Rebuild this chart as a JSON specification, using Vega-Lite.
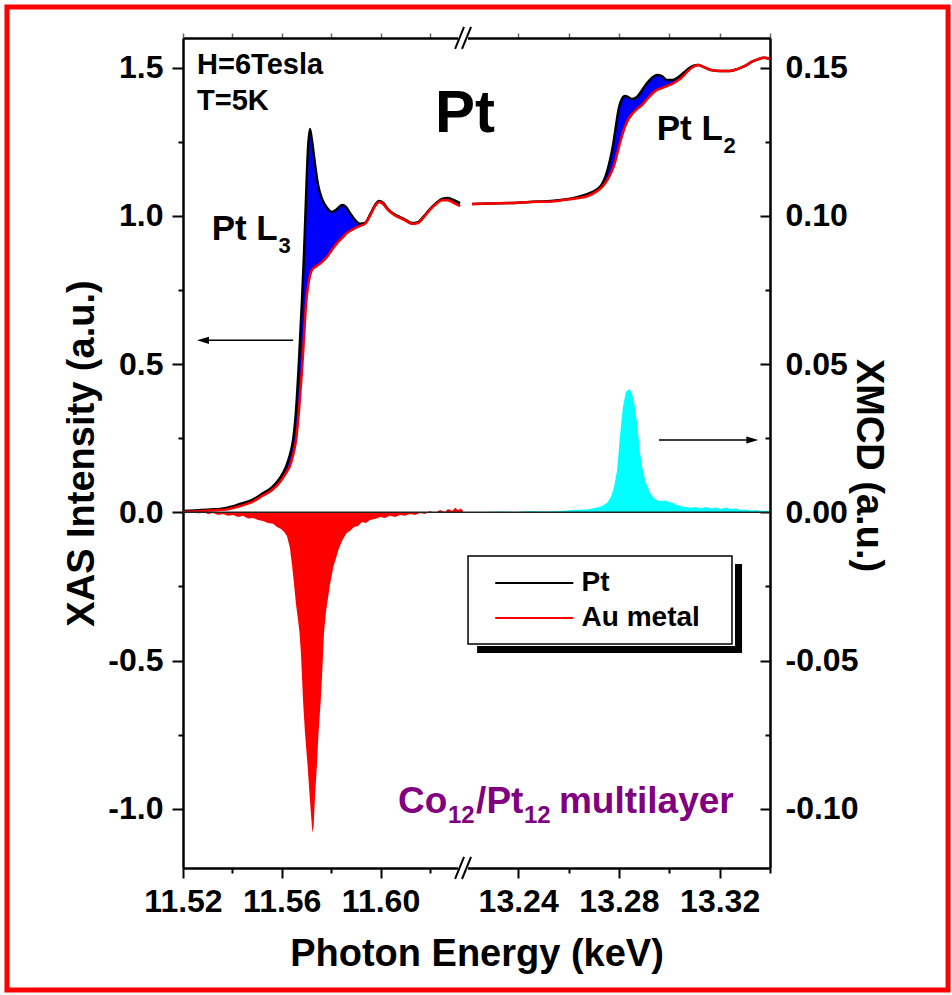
{
"$schema": "https://vega.github.io/schema/vega-lite/v6.json",
"width": 587, "height": 830,
"autosize": {"type": "none"},
"padding": {"left": 183, "top": 38, "right": 182, "bottom": 127},
"background": "white",
"config": {
  "view": {"stroke": null},
  "font": "Liberation Sans",
  "axis": {"labelFont": "Liberation Sans", "labelFontWeight": "bold", "labelFontSize": 32, "labelColor": "black",
    "titleFont": "Liberation Sans", "titleFontWeight": "bold", "titleFontSize": 38, "titleColor": "black",
    "domainColor": "black", "domainWidth": 2.5, "tickColor": "black", "tickWidth": 2, "grid": false,
    "labelFlush": false, "labelOverlap": false}
},
"datasets": {
  "xas": [
    {"E":11.5200,"Pt":0.004,"Au":0.001,"edge":"L3"},{"E":11.5249,"Pt":0.006,"Au":0.003,"edge":"L3"},{"E":11.5309,"Pt":0.009,"Au":0.006,"edge":"L3"},{"E":11.5370,"Pt":0.014,"Au":0.009,"edge":"L3"},{"E":11.5431,"Pt":0.028,"Au":0.021,"edge":"L3"},{"E":11.5479,"Pt":0.041,"Au":0.034,"edge":"L3"},{"E":11.5520,"Pt":0.062,"Au":0.055,"edge":"L3"},{"E":11.5561,"Pt":0.085,"Au":0.075,"edge":"L3"},{"E":11.5593,"Pt":0.116,"Au":0.102,"edge":"L3"},{"E":11.5617,"Pt":0.153,"Au":0.132,"edge":"L3"},{"E":11.5633,"Pt":0.194,"Au":0.156,"edge":"L3"},{"E":11.5646,"Pt":0.244,"Au":0.193,"edge":"L3"},{"E":11.5658,"Pt":0.345,"Au":0.244,"edge":"L3"},{"E":11.5670,"Pt":0.514,"Au":0.345,"edge":"L3"},{"E":11.5682,"Pt":0.716,"Au":0.480,"edge":"L3"},{"E":11.5690,"Pt":0.868,"Au":0.588,"edge":"L3"},{"E":11.5698,"Pt":1.053,"Au":0.699,"edge":"L3"},{"E":11.5706,"Pt":1.222,"Au":0.760,"edge":"L3"},{"E":11.5714,"Pt":1.293,"Au":0.797,"edge":"L3"},{"E":11.5722,"Pt":1.256,"Au":0.817,"edge":"L3"},{"E":11.5735,"Pt":1.172,"Au":0.827,"edge":"L3"},{"E":11.5747,"Pt":1.104,"Au":0.834,"edge":"L3"},{"E":11.5763,"Pt":1.057,"Au":0.844,"edge":"L3"},{"E":11.5783,"Pt":1.027,"Au":0.861,"edge":"L3"},{"E":11.5803,"Pt":1.013,"Au":0.885,"edge":"L3"},{"E":11.5824,"Pt":1.023,"Au":0.908,"edge":"L3"},{"E":11.5844,"Pt":1.037,"Au":0.925,"edge":"L3"},{"E":11.5860,"Pt":1.030,"Au":0.939,"edge":"L3"},{"E":11.5876,"Pt":1.010,"Au":0.949,"edge":"L3"},{"E":11.5897,"Pt":0.986,"Au":0.959,"edge":"L3"},{"E":11.5917,"Pt":0.973,"Au":0.966,"edge":"L3"},{"E":11.5937,"Pt":0.976,"Au":0.973,"edge":"L3"},{"E":11.5957,"Pt":1.003,"Au":0.999,"edge":"L3"},{"E":11.5978,"Pt":1.037,"Au":1.033,"edge":"L3"},{"E":11.5994,"Pt":1.050,"Au":1.047,"edge":"L3"},{"E":11.6010,"Pt":1.044,"Au":1.040,"edge":"L3"},{"E":11.6030,"Pt":1.023,"Au":1.020,"edge":"L3"},{"E":11.6055,"Pt":1.006,"Au":1.003,"edge":"L3"},{"E":11.6079,"Pt":0.996,"Au":0.993,"edge":"L3"},{"E":11.6103,"Pt":0.986,"Au":0.983,"edge":"L3"},{"E":11.6128,"Pt":0.976,"Au":0.973,"edge":"L3"},{"E":11.6152,"Pt":0.979,"Au":0.976,"edge":"L3"},{"E":11.6176,"Pt":0.999,"Au":0.996,"edge":"L3"},{"E":11.6200,"Pt":1.023,"Au":1.020,"edge":"L3"},{"E":11.6225,"Pt":1.043,"Au":1.040,"edge":"L3"},{"E":11.6249,"Pt":1.057,"Au":1.053,"edge":"L3"},{"E":11.6273,"Pt":1.060,"Au":1.053,"edge":"L3"},{"E":11.6298,"Pt":1.053,"Au":1.043,"edge":"L3"},{"E":11.6322,"Pt":1.043,"Au":1.033,"edge":"L3"},
    {"E":13.2217,"Pt":1.040,"Au":1.040,"edge":"L2"},{"E":13.2288,"Pt":1.042,"Au":1.042,"edge":"L2"},{"E":13.2368,"Pt":1.043,"Au":1.043,"edge":"L2"},{"E":13.2447,"Pt":1.047,"Au":1.047,"edge":"L2"},{"E":13.2526,"Pt":1.050,"Au":1.048,"edge":"L2"},{"E":13.2586,"Pt":1.055,"Au":1.054,"edge":"L2"},{"E":13.2638,"Pt":1.064,"Au":1.060,"edge":"L2"},{"E":13.2677,"Pt":1.074,"Au":1.067,"edge":"L2"},{"E":13.2709,"Pt":1.087,"Au":1.081,"edge":"L2"},{"E":13.2733,"Pt":1.107,"Au":1.097,"edge":"L2"},{"E":13.2749,"Pt":1.138,"Au":1.114,"edge":"L2"},{"E":13.2765,"Pt":1.189,"Au":1.138,"edge":"L2"},{"E":13.2777,"Pt":1.239,"Au":1.161,"edge":"L2"},{"E":13.2789,"Pt":1.307,"Au":1.195,"edge":"L2"},{"E":13.2800,"Pt":1.364,"Au":1.232,"edge":"L2"},{"E":13.2812,"Pt":1.394,"Au":1.269,"edge":"L2"},{"E":13.2824,"Pt":1.404,"Au":1.300,"edge":"L2"},{"E":13.2836,"Pt":1.401,"Au":1.323,"edge":"L2"},{"E":13.2852,"Pt":1.394,"Au":1.343,"edge":"L2"},{"E":13.2872,"Pt":1.401,"Au":1.360,"edge":"L2"},{"E":13.2892,"Pt":1.424,"Au":1.374,"edge":"L2"},{"E":13.2912,"Pt":1.448,"Au":1.394,"edge":"L2"},{"E":13.2931,"Pt":1.465,"Au":1.411,"edge":"L2"},{"E":13.2951,"Pt":1.475,"Au":1.425,"edge":"L2"},{"E":13.2971,"Pt":1.471,"Au":1.431,"edge":"L2"},{"E":13.2991,"Pt":1.458,"Au":1.438,"edge":"L2"},{"E":13.3011,"Pt":1.458,"Au":1.445,"edge":"L2"},{"E":13.3031,"Pt":1.465,"Au":1.455,"edge":"L2"},{"E":13.3051,"Pt":1.478,"Au":1.468,"edge":"L2"},{"E":13.3070,"Pt":1.492,"Au":1.485,"edge":"L2"},{"E":13.3094,"Pt":1.506,"Au":1.502,"edge":"L2"},{"E":13.3114,"Pt":1.509,"Au":1.509,"edge":"L2"},{"E":13.3138,"Pt":1.502,"Au":1.502,"edge":"L2"},{"E":13.3166,"Pt":1.492,"Au":1.492,"edge":"L2"},{"E":13.3202,"Pt":1.489,"Au":1.489,"edge":"L2"},{"E":13.3241,"Pt":1.489,"Au":1.489,"edge":"L2"},{"E":13.3273,"Pt":1.496,"Au":1.496,"edge":"L2"},{"E":13.3301,"Pt":1.506,"Au":1.506,"edge":"L2"},{"E":13.3329,"Pt":1.520,"Au":1.520,"edge":"L2"},{"E":13.3352,"Pt":1.528,"Au":1.528,"edge":"L2"},{"E":13.3376,"Pt":1.533,"Au":1.533,"edge":"L2"},{"E":13.3400,"Pt":1.529,"Au":1.529,"edge":"L2"}
  ],
  "xmcd": [
    {"E":11.5200,"XMCD":0.0004,"edge":"L3"},{"E":11.5220,"XMCD":-0.0002,"edge":"L3"},{"E":11.5241,"XMCD":0.0004,"edge":"L3"},{"E":11.5261,"XMCD":-0.0004,"edge":"L3"},{"E":11.5281,"XMCD":0.0001,"edge":"L3"},{"E":11.5301,"XMCD":-0.0006,"edge":"L3"},{"E":11.5322,"XMCD":-0.0002,"edge":"L3"},{"E":11.5342,"XMCD":-0.0009,"edge":"L3"},{"E":11.5362,"XMCD":-0.0006,"edge":"L3"},{"E":11.5382,"XMCD":-0.0012,"edge":"L3"},{"E":11.5403,"XMCD":-0.0009,"edge":"L3"},{"E":11.5423,"XMCD":-0.0016,"edge":"L3"},{"E":11.5443,"XMCD":-0.0012,"edge":"L3"},{"E":11.5463,"XMCD":-0.0021,"edge":"L3"},{"E":11.5484,"XMCD":-0.0019,"edge":"L3"},{"E":11.5504,"XMCD":-0.0026,"edge":"L3"},{"E":11.5524,"XMCD":-0.0029,"edge":"L3"},{"E":11.5544,"XMCD":-0.0036,"edge":"L3"},{"E":11.5565,"XMCD":-0.0039,"edge":"L3"},{"E":11.5581,"XMCD":-0.0050,"edge":"L3"},{"E":11.5597,"XMCD":-0.0056,"edge":"L3"},{"E":11.5609,"XMCD":-0.0066,"edge":"L3"},{"E":11.5621,"XMCD":-0.0080,"edge":"L3"},{"E":11.5633,"XMCD":-0.0120,"edge":"L3"},{"E":11.5642,"XMCD":-0.0181,"edge":"L3"},{"E":11.5650,"XMCD":-0.0245,"edge":"L3"},{"E":11.5658,"XMCD":-0.0313,"edge":"L3"},{"E":11.5666,"XMCD":-0.0363,"edge":"L3"},{"E":11.5672,"XMCD":-0.0407,"edge":"L3"},{"E":11.5678,"XMCD":-0.0481,"edge":"L3"},{"E":11.5686,"XMCD":-0.0633,"edge":"L3"},{"E":11.5694,"XMCD":-0.0744,"edge":"L3"},{"E":11.5705,"XMCD":-0.0859,"edge":"L3"},{"E":11.5714,"XMCD":-0.0970,"edge":"L3"},{"E":11.5724,"XMCD":-0.1081,"edge":"L3"},{"E":11.5729,"XMCD":-0.1058,"edge":"L3"},{"E":11.5735,"XMCD":-0.0953,"edge":"L3"},{"E":11.5742,"XMCD":-0.0859,"edge":"L3"},{"E":11.5749,"XMCD":-0.0744,"edge":"L3"},{"E":11.5758,"XMCD":-0.0633,"edge":"L3"},{"E":11.5765,"XMCD":-0.0519,"edge":"L3"},{"E":11.5771,"XMCD":-0.0407,"edge":"L3"},{"E":11.5779,"XMCD":-0.0336,"edge":"L3"},{"E":11.5786,"XMCD":-0.0296,"edge":"L3"},{"E":11.5795,"XMCD":-0.0245,"edge":"L3"},{"E":11.5809,"XMCD":-0.0184,"edge":"L3"},{"E":11.5820,"XMCD":-0.0154,"edge":"L3"},{"E":11.5829,"XMCD":-0.0127,"edge":"L3"},{"E":11.5844,"XMCD":-0.0097,"edge":"L3"},{"E":11.5863,"XMCD":-0.0070,"edge":"L3"},{"E":11.5876,"XMCD":-0.0063,"edge":"L3"},{"E":11.5893,"XMCD":-0.0050,"edge":"L3"},{"E":11.5909,"XMCD":-0.0046,"edge":"L3"},{"E":11.5925,"XMCD":-0.0033,"edge":"L3"},{"E":11.5941,"XMCD":-0.0036,"edge":"L3"},{"E":11.5957,"XMCD":-0.0026,"edge":"L3"},{"E":11.5978,"XMCD":-0.0023,"edge":"L3"},{"E":11.5998,"XMCD":-0.0016,"edge":"L3"},{"E":11.6018,"XMCD":-0.0019,"edge":"L3"},{"E":11.6038,"XMCD":-0.0012,"edge":"L3"},{"E":11.6059,"XMCD":-0.0016,"edge":"L3"},{"E":11.6079,"XMCD":-0.0009,"edge":"L3"},{"E":11.6099,"XMCD":-0.0012,"edge":"L3"},{"E":11.6119,"XMCD":-0.0006,"edge":"L3"},{"E":11.6140,"XMCD":-0.0009,"edge":"L3"},{"E":11.6160,"XMCD":-0.0002,"edge":"L3"},{"E":11.6180,"XMCD":-0.0006,"edge":"L3"},{"E":11.6200,"XMCD":0.0004,"edge":"L3"},{"E":11.6221,"XMCD":-0.0002,"edge":"L3"},{"E":11.6241,"XMCD":0.0008,"edge":"L3"},{"E":11.6261,"XMCD":0.0001,"edge":"L3"},{"E":11.6273,"XMCD":0.0011,"edge":"L3"},{"E":11.6290,"XMCD":0.0004,"edge":"L3"},{"E":11.6302,"XMCD":0.0015,"edge":"L3"},{"E":11.6314,"XMCD":0.0008,"edge":"L3"},{"E":11.6326,"XMCD":0.0013,"edge":"L3"},{"E":11.6334,"XMCD":0.0004,"edge":"L3"},
    {"E":13.2260,"XMCD":0.0001,"edge":"L2"},{"E":13.2328,"XMCD":0.0003,"edge":"L2"},{"E":13.2388,"XMCD":0.0001,"edge":"L2"},{"E":13.2447,"XMCD":0.0004,"edge":"L2"},{"E":13.2507,"XMCD":0.0003,"edge":"L2"},{"E":13.2566,"XMCD":0.0004,"edge":"L2"},{"E":13.2618,"XMCD":0.0008,"edge":"L2"},{"E":13.2673,"XMCD":0.0009,"edge":"L2"},{"E":13.2709,"XMCD":0.0015,"edge":"L2"},{"E":13.2733,"XMCD":0.0021,"edge":"L2"},{"E":13.2753,"XMCD":0.0031,"edge":"L2"},{"E":13.2769,"XMCD":0.0052,"edge":"L2"},{"E":13.2781,"XMCD":0.0085,"edge":"L2"},{"E":13.2793,"XMCD":0.0143,"edge":"L2"},{"E":13.2804,"XMCD":0.0254,"edge":"L2"},{"E":13.2816,"XMCD":0.0355,"edge":"L2"},{"E":13.2828,"XMCD":0.0406,"edge":"L2"},{"E":13.2841,"XMCD":0.0416,"edge":"L2"},{"E":13.2852,"XMCD":0.0402,"edge":"L2"},{"E":13.2862,"XMCD":0.0362,"edge":"L2"},{"E":13.2872,"XMCD":0.0304,"edge":"L2"},{"E":13.2884,"XMCD":0.0200,"edge":"L2"},{"E":13.2896,"XMCD":0.0136,"edge":"L2"},{"E":13.2908,"XMCD":0.0099,"edge":"L2"},{"E":13.2924,"XMCD":0.0065,"edge":"L2"},{"E":13.2939,"XMCD":0.0048,"edge":"L2"},{"E":13.2951,"XMCD":0.0041,"edge":"L2"},{"E":13.2967,"XMCD":0.0038,"edge":"L2"},{"E":13.2983,"XMCD":0.0040,"edge":"L2"},{"E":13.2999,"XMCD":0.0035,"edge":"L2"},{"E":13.3015,"XMCD":0.0031,"edge":"L2"},{"E":13.3031,"XMCD":0.0025,"edge":"L2"},{"E":13.3047,"XMCD":0.0020,"edge":"L2"},{"E":13.3067,"XMCD":0.0018,"edge":"L2"},{"E":13.3086,"XMCD":0.0015,"edge":"L2"},{"E":13.3106,"XMCD":0.0018,"edge":"L2"},{"E":13.3126,"XMCD":0.0013,"edge":"L2"},{"E":13.3146,"XMCD":0.0018,"edge":"L2"},{"E":13.3166,"XMCD":0.0013,"edge":"L2"},{"E":13.3186,"XMCD":0.0016,"edge":"L2"},{"E":13.3205,"XMCD":0.0011,"edge":"L2"},{"E":13.3225,"XMCD":0.0016,"edge":"L2"},{"E":13.3245,"XMCD":0.0011,"edge":"L2"},{"E":13.3265,"XMCD":0.0013,"edge":"L2"},{"E":13.3285,"XMCD":0.0008,"edge":"L2"},{"E":13.3305,"XMCD":0.0009,"edge":"L2"},{"E":13.3325,"XMCD":0.0006,"edge":"L2"},{"E":13.3344,"XMCD":0.0008,"edge":"L2"},{"E":13.3364,"XMCD":0.0004,"edge":"L2"},{"E":13.3384,"XMCD":0.0006,"edge":"L2"},{"E":13.3396,"XMCD":0.0004,"edge":"L2"}
  ]
},
"resolve": {"scale": {"y": "independent"}, "axis": {"x": "independent", "y": "independent"}},
"layer": [
{
  "resolve": {"axis": {"x": "independent", "y": "independent"}},
  "layer": [
    {"data": {"name": "xas"},
     "mark": {"type": "area", "color": "#0000ff", "interpolate": "monotone"},
     "encoding": {
       "x": {"field": "E", "type": "quantitative", "scale": {"domain": [11.52, 11.6334, 13.2181, 13.34], "range": [0, 280, 280, 587], "nice": false, "zero": false},
             "axis": {"orient": "top", "values": [11.52,11.54,11.56,11.58,11.60,11.62,13.24,13.26,13.28,13.30,13.32,13.34], "labels": false, "tickSize": 5, "tickColor": "#666666", "tickWidth": 1.5, "title": null}},
       "y": {"field": "Au", "type": "quantitative", "scale": {"domain": [-1.2, 1.6], "nice": false, "zero": false}, "axis": null},
       "y2": {"field": "Pt"},
       "detail": {"field": "edge"}
     }},
    {"data": {"name": "xas"},
     "mark": {"type": "line", "color": "black", "strokeWidth": 2.5, "interpolate": "monotone"},
     "encoding": {
       "x": {"field": "E", "type": "quantitative",
             "axis": {"orient": "bottom", "values": [11.52,11.56,11.60,13.24,13.28,13.32], "format": ".2f", "tickSize": 10, "labelPadding": 8, "title": "Photon Energy (keV)", "titlePadding": 18}},
       "y": {"field": "Pt", "type": "quantitative",
             "axis": {"orient": "left", "values": [-1,-0.5,0,0.5,1,1.5], "labelExpr": "replace(format(datum.value, '.1f'), '\u2212', '-')", "tickSize": 11, "labelPadding": 9, "title": "XAS Intensity (a.u.)", "titlePadding": 6}},
       "detail": {"field": "edge"}
     }},
    {"data": {"name": "xas"},
     "mark": {"type": "line", "color": "#ff0000", "strokeWidth": 2.5, "interpolate": "monotone"},
     "encoding": {
       "x": {"field": "E", "type": "quantitative",
             "axis": {"orient": "bottom", "values": [11.54,11.58,11.62,13.26,13.30,13.34], "labels": false, "domain": false, "tickSize": 5, "title": null}},
       "y": {"field": "Au", "type": "quantitative",
             "axis": {"orient": "left", "values": [-0.75,-0.25,0.25,0.75,1.25], "labels": false, "domain": false, "tickSize": 5, "title": null}},
       "detail": {"field": "edge"}
     }},
    {"data": {"values": [{}]}, "mark": {"type": "rule", "color": "black", "strokeWidth": 1.5},
     "encoding": {"x": {"datum": 11.5273, "axis": null}, "x2": {"datum": 11.5646}, "y": {"datum": 0.58, "axis": null}}},
    {"data": {"values": [{}]}, "mark": {"type": "point", "shape": "M-1,0L1,-0.6L1,0.6Z", "size": 144, "filled": true, "opacity": 1, "color": "black", "strokeWidth": 0},
     "encoding": {"x": {"datum": 11.5281, "axis": null}, "y": {"datum": 0.58, "axis": null}}},
    {"data": {"values": [{}]}, "mark": {"type": "rule", "color": "black", "strokeWidth": 1.5},
     "encoding": {"x": {"datum": 13.2959, "axis": null}, "x2": {"datum": 13.3313}, "y": {"datum": 0.2439, "axis": null}}},
    {"data": {"values": [{}]}, "mark": {"type": "point", "shape": "M1,0L-1,-0.6L-1,0.6Z", "size": 144, "filled": true, "opacity": 1, "color": "black", "strokeWidth": 0},
     "encoding": {"x": {"datum": 13.3330, "axis": null}, "y": {"datum": 0.2439, "axis": null}}},
    {"data": {"values": [{}]}, "mark": {"type": "rect", "color": "white"},
     "encoding": {"x": {"datum": 11.6314, "axis": null}, "x2": {"datum": 13.2201}, "y": {"datum": -1.1898, "axis": null}, "y2": {"datum": -1.2134}}},
    {"data": {"values": [{}]}, "mark": {"type": "rect", "color": "white"},
     "encoding": {"x": {"datum": 11.6314, "axis": null}, "x2": {"datum": 13.2201}, "y": {"datum": 1.6135, "axis": null}, "y2": {"datum": 1.5866}}},
    {"data": {"values": [{}]}, "mark": {"type": "rule", "color": "black", "strokeWidth": 2},
     "encoding": {"x": {"datum": 11.6302, "axis": null}, "x2": {"datum": 13.2185}, "y": {"datum": -1.2371, "axis": null}, "y2": {"datum": -1.1628}}},
    {"data": {"values": [{}]}, "mark": {"type": "rule", "color": "black", "strokeWidth": 2},
     "encoding": {"x": {"datum": 11.6330, "axis": null}, "x2": {"datum": 13.2213}, "y": {"datum": -1.2371, "axis": null}, "y2": {"datum": -1.1628}}},
    {"data": {"values": [{}]}, "mark": {"type": "rule", "color": "black", "strokeWidth": 2},
     "encoding": {"x": {"datum": 11.6302, "axis": null}, "x2": {"datum": 13.2185}, "y": {"datum": 1.5630, "axis": null}, "y2": {"datum": 1.6372}}},
    {"data": {"values": [{}]}, "mark": {"type": "rule", "color": "black", "strokeWidth": 2},
     "encoding": {"x": {"datum": 11.6330, "axis": null}, "x2": {"datum": 13.2213}, "y": {"datum": 1.5630, "axis": null}, "y2": {"datum": 1.6372}}},
    {"data": {"values": [{}]}, "mark": {"type": "text", "text": "H=6Tesla", "fontSize": 29, "fontWeight": "bold", "font": "Liberation Sans", "align": "left", "baseline": "alphabetic", "color": "black"},
     "encoding": {"x": {"datum": 11.5257, "axis": null}, "y": {"datum": 1.4776, "axis": null}}},
    {"data": {"values": [{}]}, "mark": {"type": "text", "text": "T=5K", "fontSize": 29, "fontWeight": "bold", "font": "Liberation Sans", "align": "left", "baseline": "alphabetic", "color": "black"},
     "encoding": {"x": {"datum": 11.5257, "axis": null}, "y": {"datum": 1.3568, "axis": null}}},
    {"data": {"values": [{}]}, "mark": {"type": "text", "text": "Pt", "fontSize": 60, "fontWeight": "bold", "font": "Liberation Sans", "align": "left", "baseline": "alphabetic", "color": "black"},
     "encoding": {"x": {"datum": 11.6221, "axis": null}, "y": {"datum": 1.284, "axis": null}}},
    {"data": {"values": [{}]}, "mark": {"type": "text", "text": "Pt L", "fontSize": 35, "fontWeight": "bold", "font": "Liberation Sans", "align": "left", "baseline": "alphabetic", "color": "black"},
     "encoding": {"x": {"datum": 11.5316, "axis": null}, "y": {"datum": 0.9186, "axis": null}}},
    {"data": {"values": [{}]}, "mark": {"type": "text", "text": "3", "fontSize": 22, "fontWeight": "bold", "font": "Liberation Sans", "align": "left", "baseline": "alphabetic", "color": "black"},
     "encoding": {"x": {"datum": 11.5587, "axis": null}, "y": {"datum": 0.8737, "axis": null}}},
    {"data": {"values": [{}]}, "mark": {"type": "text", "text": "Pt L", "fontSize": 35, "fontWeight": "bold", "font": "Liberation Sans", "align": "left", "baseline": "alphabetic", "color": "black"},
     "encoding": {"x": {"datum": 13.2950, "axis": null}, "y": {"datum": 1.2560, "axis": null}}},
    {"data": {"values": [{}]}, "mark": {"type": "text", "text": "2", "fontSize": 22, "fontWeight": "bold", "font": "Liberation Sans", "align": "left", "baseline": "alphabetic", "color": "black"},
     "encoding": {"x": {"datum": 13.3215, "axis": null}, "y": {"datum": 1.2111, "axis": null}}},
    {"data": {"values": [{}]}, "mark": {"type": "text", "text": "Co", "fontSize": 37, "fontWeight": "bold", "font": "Liberation Sans", "align": "left", "baseline": "alphabetic", "color": "#800080"},
     "encoding": {"x": {"datum": 11.6071, "axis": null}, "y": {"datum": -1.0144, "axis": null}}},
    {"data": {"values": [{}]}, "mark": {"type": "text", "text": "12", "fontSize": 24, "fontWeight": "bold", "font": "Liberation Sans", "align": "left", "baseline": "alphabetic", "color": "#800080"},
     "encoding": {"x": {"datum": 11.6273, "axis": null}, "y": {"datum": -1.0481, "axis": null}}},
    {"data": {"values": [{}]}, "mark": {"type": "text", "text": "/Pt", "fontSize": 37, "fontWeight": "bold", "font": "Liberation Sans", "align": "left", "baseline": "alphabetic", "color": "#800080"},
     "encoding": {"x": {"datum": 13.2233, "axis": null}, "y": {"datum": -1.0144, "axis": null}}},
    {"data": {"values": [{}]}, "mark": {"type": "text", "text": "12", "fontSize": 24, "fontWeight": "bold", "font": "Liberation Sans", "align": "left", "baseline": "alphabetic", "color": "#800080"},
     "encoding": {"x": {"datum": 13.2423, "axis": null}, "y": {"datum": -1.0481, "axis": null}}},
    {"data": {"values": [{}]}, "mark": {"type": "text", "text": "multilayer", "fontSize": 37, "fontWeight": "bold", "font": "Liberation Sans", "align": "left", "baseline": "alphabetic", "color": "#800080"},
     "encoding": {"x": {"datum": 13.2562, "axis": null}, "y": {"datum": -1.0144, "axis": null}}},
    {"data": {"values": [{}]}, "mark": {"type": "rect", "color": "black"},
     "encoding": {"x": {"datum": 13.3261, "axis": null}, "x2": {"datum": 13.3289}, "y": {"datum": -0.1744, "axis": null}, "y2": {"datum": -0.4747}}},
    {"data": {"values": [{}]}, "mark": {"type": "rect", "color": "black"},
     "encoding": {"x": {"datum": 13.2237, "axis": null}, "x2": {"datum": 13.3289}, "y": {"datum": -0.4511, "axis": null}, "y2": {"datum": -0.4747}}},
    {"data": {"values": [{}]}, "mark": {"type": "rect", "fill": "white", "stroke": "black", "strokeWidth": 1.5},
     "encoding": {"x": {"datum": 13.2201, "axis": null}, "x2": {"datum": 13.3249}, "y": {"datum": -0.1474, "axis": null}, "y2": {"datum": -0.4443}}},
    {"data": {"values": [{}]}, "mark": {"type": "rule", "color": "black", "strokeWidth": 2},
     "encoding": {"x": {"datum": 13.2309, "axis": null}, "x2": {"datum": 13.2619}, "y": {"datum": -0.2385, "axis": null}}},
    {"data": {"values": [{}]}, "mark": {"type": "rule", "color": "#ff0000", "strokeWidth": 2},
     "encoding": {"x": {"datum": 13.2309, "axis": null}, "x2": {"datum": 13.2619}, "y": {"datum": -0.3566, "axis": null}}},
    {"data": {"values": [{}]}, "mark": {"type": "text", "text": "Pt", "fontSize": 28, "fontWeight": "bold", "font": "Liberation Sans", "align": "left", "baseline": "middle", "color": "black"},
     "encoding": {"x": {"datum": 13.2652, "axis": null}, "y": {"datum": -0.2385, "axis": null}}},
    {"data": {"values": [{}]}, "mark": {"type": "text", "text": "Au metal", "fontSize": 28, "fontWeight": "bold", "font": "Liberation Sans", "align": "left", "baseline": "middle", "color": "black"},
     "encoding": {"x": {"datum": 13.2652, "axis": null}, "y": {"datum": -0.3566, "axis": null}}},
    {"data": {"values": [{}]}, "mark": {"type": "rect", "filled": false, "stroke": "#ff0000", "strokeWidth": 5},
     "encoding": {"x": {"datum": 11.4487, "axis": null}, "x2": {"datum": 13.4107}, "y": {"datum": 1.7046, "axis": null}, "y2": {"datum": -1.6112}}}
  ]
},
{
  "resolve": {"axis": {"x": "independent", "y": "independent"}},
  "layer": [
    {"data": {"name": "xmcd"},
     "mark": {"type": "area", "interpolate": "linear"},
     "encoding": {
       "x": {"field": "E", "type": "quantitative", "axis": null},
       "y": {"field": "XMCD", "type": "quantitative", "scale": {"domain": [-0.12, 0.16], "nice": false, "zero": false},
             "axis": {"orient": "right", "values": [-0.1,-0.05,0,0.05,0.1,0.15], "labelExpr": "replace(format(datum.value, '.2f'), '\u2212', '-')", "tickSize": -10, "labelPadding": 25, "title": "XMCD (a.u.)", "titlePadding": -9, "titleY": 427}},
       "y2": {"datum": 0},
       "color": {"field": "edge", "type": "nominal", "scale": {"domain": ["L3", "L2"], "range": ["#ff0000", "#00ffff"]}, "legend": null}
     }},
    {"data": {"values": [{}]}, "mark": {"type": "rule", "color": "#222222", "strokeWidth": 1.5},
     "encoding": {"y": {"datum": 0, "type": "quantitative",
       "axis": {"orient": "right", "values": [-0.075,-0.025,0.025,0.075,0.125], "labels": false, "domain": false, "tickSize": -5, "title": null}}}}
  ]
}
]
}
